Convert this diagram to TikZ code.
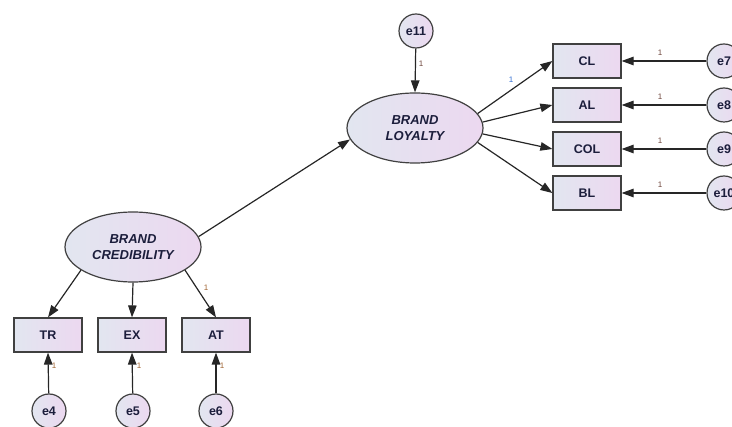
\documentclass[tikz,border=0pt]{standalone}
\usepackage{fontspec}
\setmainfont{Liberation Sans}
\usetikzlibrary{arrows.meta,shapes.geometric}
\definecolor{fillL}{RGB}{226,230,240}
\definecolor{fillR}{RGB}{236,216,240}
\definecolor{txt}{RGB}{28,30,60}
\definecolor{lbrown}{RGB}{110,70,60}
\definecolor{lblue}{RGB}{50,110,210}
\definecolor{lorange}{RGB}{160,100,50}
\tikzset{
  shade/.style={left color=fillL, right color=fillR, draw=black!75, line width=1.2pt},
  obsbox/.style={shade, rectangle, minimum width=68pt, minimum height=34pt, inner sep=0pt,
    font=\fontsize{12.5}{12.5}\selectfont\bfseries, text=txt},
  latent/.style={shade, ellipse, minimum width=136pt, minimum height=70pt, inner sep=0pt,
    font=\fontsize{13}{15.5}\selectfont\bfseries\itshape, text=txt, align=center},
  errc/.style={shade, circle, minimum size=34pt, inner sep=0pt,
    font=\fontsize{12.5}{12.5}\selectfont\bfseries, text=txt},
  arr/.style={line width=1.2pt, black!85, -{Triangle[length=12pt,width=8.5pt]}},
  one/.style={font=\fontsize{8}{8}\selectfont, inner sep=0pt},
}
\begin{document}
\begin{tikzpicture}[x=1pt,y=-1pt]
\useasboundingbox (0,0) rectangle (732,427);

% latent variables
\node[latent] (bl) at (415,128) {BRAND\\LOYALTY};
\node[latent] (bc) at (133,247) {BRAND\\CREDIBILITY};

% observed indicators of loyalty
\node[obsbox] (cl)  at (587,61)  {CL};
\node[obsbox] (al)  at (587,105) {AL};
\node[obsbox] (col) at (587,149) {COL};
\node[obsbox] (blo) at (587,193) {BL};

% observed indicators of credibility
\node[obsbox] (tr) at (48,335)  {TR};
\node[obsbox] (ex) at (132,335) {EX};
\node[obsbox] (at) at (216,335) {AT};

% error terms
\node[errc] (e11) at (416,31)  {e11};
\node[errc] (e7)  at (724,61)  {e7};
\node[errc] (e8)  at (724,105) {e8};
\node[errc] (e9)  at (724,149) {e9};
\node[errc] (e10) at (724,193) {e10};
\node[errc] (e4)  at (49,411)  {e4};
\node[errc] (e5)  at (133,411) {e5};
\node[errc] (e6)  at (216,411) {e6};

% structural path
\draw[arr] (bc.9) -- (bl.190);

% loadings
\draw[arr] (bl.13)  -- (cl.west);
\draw[arr] (bl.5)   -- (al.west);
\draw[arr] (bl.355) -- (col.west);
\draw[arr] (bl.347) -- (blo.west);
\draw[arr] (bc.204) -- (tr.north);
\draw[arr] (bc.south) -- (ex.north);
\draw[arr] (bc.336) -- (at.north);

% error paths
\draw[arr] (e11) -- (bl.north);
\draw[arr] (e7)  -- (cl.east);
\draw[arr] (e8)  -- (al.east);
\draw[arr] (e9)  -- (col.east);
\draw[arr] (e10) -- (blo.east);
\draw[arr] (e4) -- (tr.south);
\draw[arr] (e5) -- (ex.south);
\draw[arr] (e6) -- (at.south);

% fixed coefficients
\node[one, text=lbrown]  (n11) at (421,64)  {1};
\node[one, text=lblue]   (ncl) at (511,80)  {1};
\node[one, text=lbrown]  (n7)  at (660,53)  {1};
\node[one, text=lbrown]  (n8)  at (660,97)  {1};
\node[one, text=lbrown]  (n9)  at (660,141) {1};
\node[one, text=lbrown]  (n10) at (660,185) {1};
\node[one, text=lorange] (nat) at (206,288) {1};
\node[one, text=lorange] (n4)  at (54,366)  {1};
\node[one, text=lorange] (n5)  at (139,366) {1};
\node[one, text=lorange] (n6)  at (222,366) {1};
\end{tikzpicture}
\end{document}
